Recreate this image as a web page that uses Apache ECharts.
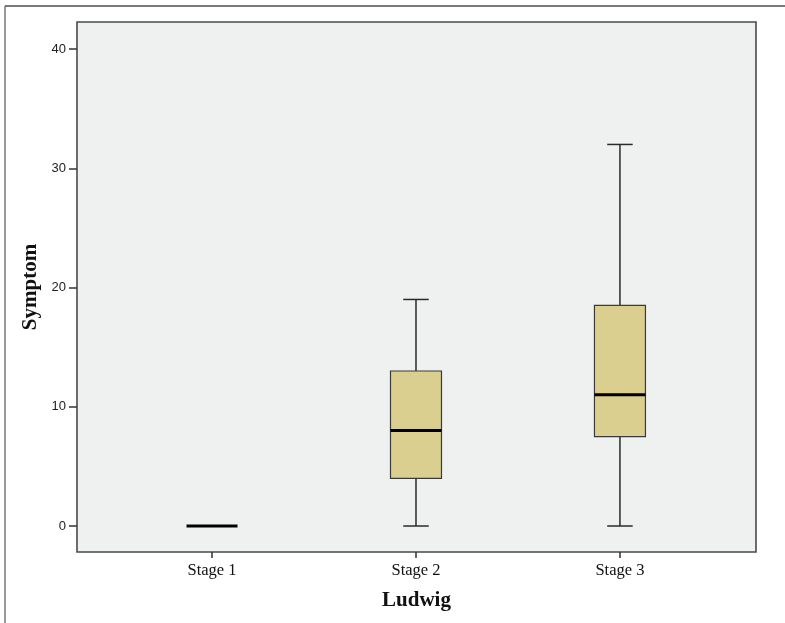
<!DOCTYPE html>
<html>
<head>
<meta charset="utf-8">
<script src="https://cdn.jsdelivr.net/npm/echarts@6/dist/echarts.min.js"></script>
<style>
html,body{margin:0;padding:0;background:#fff;}
#c{width:785px;height:623px;}
</style>
</head>
<body>
<div id="c"></div>
<script>
const categories = ['Stage 1', 'Stage 2', 'Stage 3'];
const minValues    = [0, 0, 0];
const q1Values     = [0, 4, 7.5];
const medianValues = [0, 8, 11];
const q3Values     = [0, 13, 18.5];
const maxValues    = [0, 19, 32];
const yTicks = [0, 10, 20, 30, 40];

const seriesData = categories.map((c, i) => [i, minValues[i], q1Values[i], medianValues[i], q3Values[i], maxValues[i]]);

const chart = echarts.init(document.getElementById('c'), null, {renderer: 'canvas'});

const boxFill = '#dbcf90';
const lineCol = '#2a2a2a';

function renderItem(params, api) {
  const x = api.value(0);
  const pMin = api.coord([x, api.value(1)]);
  const pQ1 = api.coord([x, api.value(2)]);
  const pMed = api.coord([x, api.value(3)]);
  const pQ3 = api.coord([x, api.value(4)]);
  const pMax = api.coord([x, api.value(5)]);
  const bw = api.size([0.25, 0])[0];
  const cx = pMed[0];
  const children = [];
  children.push({type: 'line', shape: {x1: cx, y1: pMax[1], x2: cx, y2: pMin[1]}, style: {stroke: lineCol, lineWidth: 1.5}});
  children.push({type: 'line', shape: {x1: cx - bw / 4, y1: pMax[1], x2: cx + bw / 4, y2: pMax[1]}, style: {stroke: lineCol, lineWidth: 1.5}});
  children.push({type: 'line', shape: {x1: cx - bw / 4, y1: pMin[1], x2: cx + bw / 4, y2: pMin[1]}, style: {stroke: lineCol, lineWidth: 1.5}});
  if (pQ1[1] - pQ3[1] > 0.5) {
    children.push({type: 'rect', shape: {x: cx - bw / 2, y: pQ3[1], width: bw, height: pQ1[1] - pQ3[1]}, style: {fill: boxFill, stroke: '#3a3a3a', lineWidth: 1.2}});
  }
  children.push({type: 'line', shape: {x1: cx - bw / 2, y1: pMed[1], x2: cx + bw / 2, y2: pMed[1]}, style: {stroke: '#000', lineWidth: 3}});
  return {type: 'group', children: children};
}

chart.setOption({
  animation: false,
  backgroundColor: '#ffffff',
  graphic: [
    {type: 'line', shape: {x1: 5, y1: 6, x2: 785, y2: 6}, style: {stroke: '#7a7a7a', lineWidth: 2}},
    {type: 'line', shape: {x1: 5, y1: 6, x2: 5, y2: 623}, style: {stroke: '#555', lineWidth: 1.2}}
  ],
  grid: {
    left: 77, top: 22, right: 29, bottom: 71,
    show: true, backgroundColor: '#eff0f0', borderColor: '#4a4a4a', borderWidth: 1.6
  },
  xAxis: {
    type: 'value', min: -0.662, max: 2.667,
    name: 'Ludwig', nameLocation: 'middle', nameGap: 38,
    nameTextStyle: {fontFamily: 'Liberation Serif', fontWeight: 'bold', fontSize: 21, color: '#111'},
    axisLine: {show: false, onZero: false},
    splitLine: {show: false},
    axisTick: {show: true, customValues: [0, 1, 2], length: 6, lineStyle: {color: '#333', width: 1.5}},
    axisLabel: {customValues: [0, 1, 2], formatter: v => categories[Math.round(v)], margin: 10,
      fontFamily: 'Liberation Serif', fontSize: 16.5, color: '#111'}
  },
  yAxis: {
    type: 'value', min: -2.18, max: 42.27,
    name: 'Symptom', nameLocation: 'middle', nameGap: 34, nameRotate: 90,
    nameTextStyle: {fontFamily: 'Liberation Serif', fontWeight: 'bold', fontSize: 21, color: '#111'},
    axisLine: {show: false, onZero: false},
    splitLine: {show: false},
    axisTick: {show: true, customValues: yTicks, length: 8, lineStyle: {color: '#333', width: 1.5}},
    axisLabel: {customValues: yTicks, margin: 11, fontFamily: 'Liberation Sans', fontSize: 13, color: '#222'}
  },
  series: [{
    type: 'custom',
    renderItem: renderItem,
    encode: {x: 0, y: [1, 2, 3, 4, 5]},
    data: seriesData
  }]
});
</script>
</body>
</html>
